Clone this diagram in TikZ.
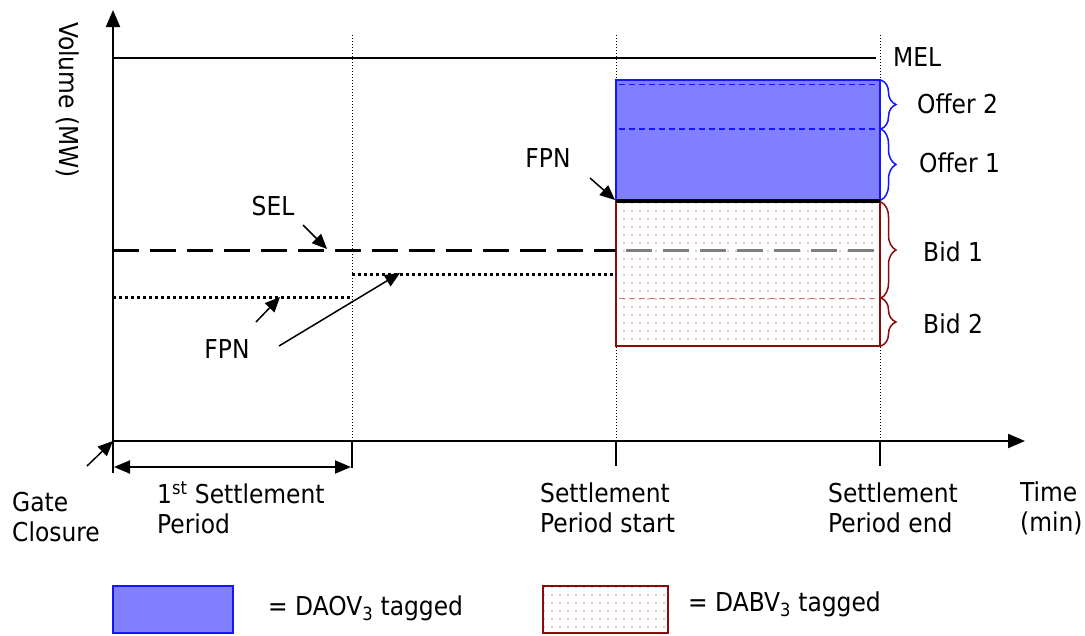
\documentclass[tikz,border=0pt]{standalone}
\usepackage{fontspec}
\setmainfont{DejaVu Sans Condensed}
\usetikzlibrary{arrows.meta}
\usetikzlibrary{patterns.meta}
\usetikzlibrary{decorations.pathreplacing}

\definecolor{offerfill}{RGB}{128,128,255}
\definecolor{offerline}{RGB}{20,20,255}
\definecolor{bidline}{RGB}{140,10,10}
\definecolor{biddot}{RGB}{225,140,140}
\definecolor{biddash}{RGB}{205,120,120}

\tikzset{
  lbl/.style={font=\fontsize{26}{30}\selectfont, inner sep=0pt, align=left},
  pointer/.style={line width=1.5pt, -{Triangle[length=15pt,width=13pt]}},
  guide/.style={line width=1pt, dash pattern=on 1pt off 2pt},
  fpnline/.style={line width=3pt, dash pattern=on 3pt off 3pt},
  selline/.style={line width=3pt, dash pattern=on 26pt off 11pt},
  bidbox/.style={draw=bidline, line width=1.3pt,
    pattern={Dots[distance=8pt,radius=0.8pt]}, pattern color=biddot},
  offerbox/.style={fill=offerfill, draw=offerline, line width=1.5pt},
  curly/.style={decorate, decoration={brace, amplitude=15pt}, line width=1.5pt}
}

\begin{document}
\begin{tikzpicture}[x=1pt, y=-1pt]
  \useasboundingbox (0,0) rectangle (1085,635);

  \coordinate (orig) at (113,441);
  \coordinate (ytip) at (113,10);
  \coordinate (xtip) at (1025,441);
  \coordinate (ybot) at (113,473);

  \draw[guide]
    (352,35)
    --
    (352,441);
  \draw[guide]
    (616,35)
    --
    (616,441);
  \draw[guide]
    (880,35)
    --
    (880,441);

  \draw[line width=1.2pt]
    (113,58)
    --
    (876,58);
  \node[lbl, anchor=west] (mel) at (893,57) {MEL};

  \filldraw[offerbox]
    (616,80)
    rectangle
    (880,201);
  \draw[offerline, line width=1pt, dash pattern=on 6pt off 4pt]
    (619,84)
    --
    (877,84);
  \draw[offerline, line width=1.2pt, dash pattern=on 6pt off 4pt]
    (619,129)
    --
    (877,129);

  \draw[bidbox]
    (616,202)
    rectangle
    (880,346);
  \draw[biddash, line width=1pt, dash pattern=on 6pt off 4pt]
    (619,298)
    --
    (877,298);
  \draw[gray, line width=3pt, dash pattern=on 26pt off 11pt]
    (626,250)
    --
    (875,250);
  \draw[line width=4pt]
    (616,201)
    --
    (880,201);

  \draw[selline]
    (113,250)
    --
    (616,250);
  \draw[fpnline]
    (113,297)
    --
    (352,297);
  \draw[fpnline]
    (352,274)
    --
    (616,274);

  \draw[curly, offerline]
    (881,80)
    --
    (881,129);
  \draw[curly, offerline]
    (881,129)
    --
    (881,200);
  \draw[curly, bidline]
    (881,202)
    --
    (881,298);
  \draw[curly, bidline]
    (881,298)
    --
    (881,346);
  \node[lbl, anchor=west] (offer2) at (917,104) {Offer 2};
  \node[lbl, anchor=west] (offer1) at (919,163) {Offer 1};
  \node[lbl, anchor=west] (bid1) at (923,252) {Bid 1};
  \node[lbl, anchor=west] (bid2) at (923,324) {Bid 2};

  \draw[line width=2pt, -{Triangle[length=17pt,width=14pt]}]
    (ybot)
    --
    (ytip);
  \draw[line width=2pt, -{Triangle[length=17pt,width=14pt]}]
    (orig)
    --
    (xtip);
  \draw[line width=1.5pt]
    (616,441)
    --
    (616,466);
  \draw[line width=1.5pt]
    (880,441)
    --
    (880,466);
  \draw[line width=1.5pt]
    (352,441)
    --
    (352,468);
  \draw[line width=2pt, {Triangle[length=16pt,width=13pt]}-{Triangle[length=16pt,width=13pt]}]
    (114,467)
    --
    (351,467);

  \node[lbl, rotate=-90] (vol) at (68,100) {Volume (MW)};

  \node[lbl] (sel) at (273,206) {SEL};
  \coordinate (seltail) at (303,225);
  \coordinate (selhead) at (327,249);
  \draw[pointer] (seltail) -- (selhead);

  \node[lbl] (fpnlow) at (227,349) {FPN};
  \coordinate (fpnatail) at (256,322);
  \coordinate (fpnahead) at (280,297);
  \coordinate (fpnbtail) at (279,346);
  \coordinate (fpnbhead) at (400,273);
  \draw[pointer] (fpnatail) -- (fpnahead);
  \draw[pointer] (fpnbtail) -- (fpnbhead);

  \node[lbl] (fpnhigh) at (548,158) {FPN};
  \coordinate (fpnctail) at (590,178);
  \coordinate (fpnchead) at (615,200);
  \draw[pointer] (fpnctail) -- (fpnchead);

  \node[lbl, anchor=west] (gate) at (12,517) {Gate\\Closure};
  \coordinate (gatetail) at (87,466);
  \draw[pointer] (gatetail) -- (orig);

  \node[lbl, anchor=west] (first) at (157,508) {1\textsuperscript{st} Settlement\\Period};
  \node[lbl, anchor=west] (spstart) at (540,508) {Settlement\\Period start};
  \node[lbl, anchor=west] (spend) at (828,508) {Settlement\\Period end};
  \node[lbl, anchor=west] (time) at (1020,508) {Time\\(min)};

  \filldraw[offerbox]
    (113,586)
    rectangle
    (233,633);
  \node[lbl, anchor=west] (daov) at (268,608) {= DAOV\textsubscript{3} tagged};
  \draw[bidbox]
    (543,586)
    rectangle
    (668,633);
  \node[lbl, anchor=west] (dabv) at (688,604) {= DABV\textsubscript{3} tagged};
\end{tikzpicture}
\end{document}
